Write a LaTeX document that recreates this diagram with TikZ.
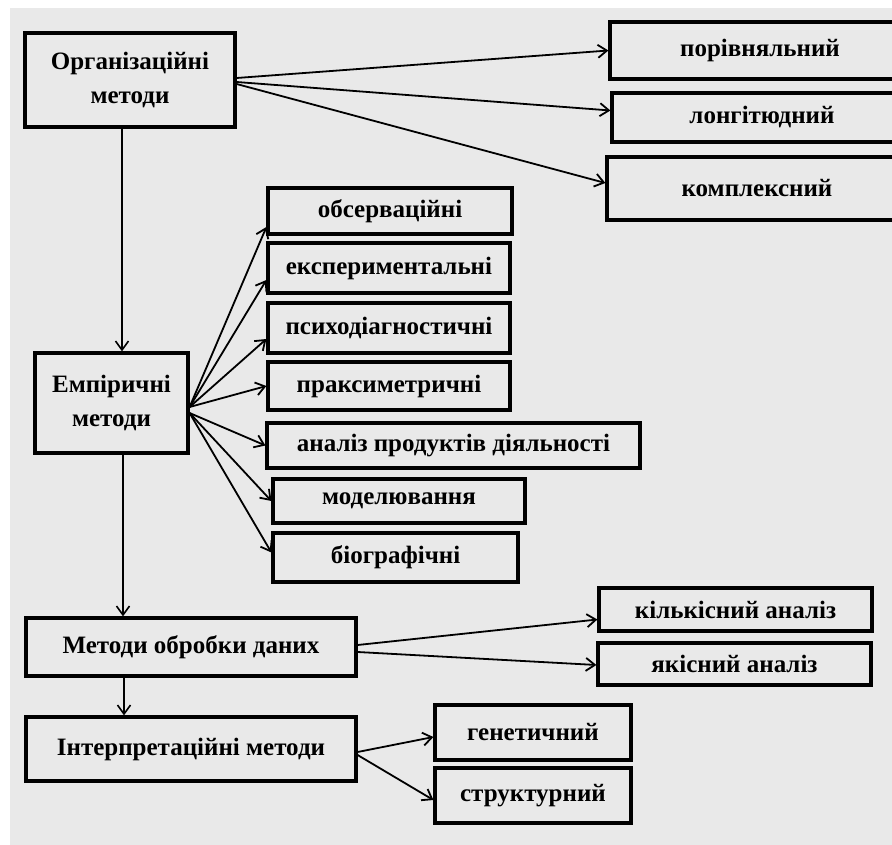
\documentclass[tikz,border=0pt]{standalone}
\usepackage{fontspec}
\setmainfont{Liberation Serif}
\usepackage{tikz}
\usetikzlibrary{shapes}
\usetikzlibrary{arrows.meta}
\usetikzlibrary{positioning}
\usetikzlibrary{calc}
\definecolor{papier}{RGB}{233,233,233}
\tikzstyle{bloc}=[rectangle,draw,line width=3.2pt,fill=papier,inner sep=0pt,
        font=\fontsize{25}{34}\selectfont\bfseries,align=center]
\tikzstyle{suite}=[-{Straight Barb[length=9pt,width=13pt,line width=1.8pt]},line width=1.8pt]
\tikzstyle{descente}=[-{Straight Barb[length=9pt,width=13pt,line width=1.6pt]},line width=1.6pt]

\begin{document}
\begin{tikzpicture}[x=1pt,y=-1pt]
\useasboundingbox (0,0) rectangle (892,845);
\fill[papier] (10,8) rectangle (892,845);
\node[bloc,minimum width=210pt,minimum height=94pt] (org) at (130,80) {Організаційні\\методи};
\node[bloc,minimum width=300pt,minimum height=57pt] (por) at (760,50.5) {порівняльний};
\node[bloc,minimum width=300pt,minimum height=49pt] (lon) at (762,117.5) {лонгітюдний};
\node[bloc,minimum width=300pt,minimum height=63pt] (kom) at (757,188.5) {комплексний};
\node[bloc,minimum width=153pt,minimum height=100pt] (emp) at (111.5,403) {Емпіричні\\методи};
\node[bloc,minimum width=244pt,minimum height=46pt] (obs) at (390,211) {обсерваційні};
\node[bloc,minimum width=242pt,minimum height=50pt] (eksp) at (389,268) {експериментальні};
\node[bloc,minimum width=242pt,minimum height=50pt] (psy) at (389,328) {психодіагностичні};
\node[bloc,minimum width=242pt,minimum height=48pt] (prak) at (389,386) {праксиметричні};
\node[bloc,minimum width=373pt,minimum height=45pt] (anal) at (453.5,445.5) {аналіз продуктів діяльності};
\node[bloc,minimum width=252pt,minimum height=44pt] (mod) at (399,501) {моделювання};
\node[bloc,minimum width=245pt,minimum height=49pt] (bio) at (395.5,557.5) {біографічні};
\node[bloc,minimum width=330pt,minimum height=58pt] (obr) at (191,647) {Методи обробки даних};
\node[bloc,minimum width=273pt,minimum height=43pt] (kil) at (735.5,609.5) {кількісний аналіз};
\node[bloc,minimum width=273pt,minimum height=42pt] (yak) at (734.5,664) {якісний аналіз};
\node[bloc,minimum width=330pt,minimum height=64pt] (int) at (191,749) {Інтерпретаційні методи};
\node[bloc,minimum width=196pt,minimum height=55pt] (gen) at (533,732.5) {генетичний};
\node[bloc,minimum width=196pt,minimum height=55pt] (str) at (533,795.5) {структурний};
%fleches
\draw[descente] ([xshift=-8pt]org.south) -- ([xshift=10.5pt]emp.north);
\draw[descente] ([xshift=11.5pt]emp.south) -- ([xshift=-68pt]obr.north);
\draw[descente] ([xshift=-67pt]obr.south) -- ([xshift=-67pt]int.north);
\draw[suite] ([yshift=2pt]org.east) -- (por.west);
\draw[suite] ([yshift=-2pt]org.east) -- ([yshift=7pt]lon.west);
\draw[suite] ([yshift=-4pt]org.east) -- ([yshift=5.5pt]kom.west);
\draw[suite] ([yshift=-4pt]emp.east) -- ([yshift=-16pt]obs.west);
\draw[suite] ([yshift=-4pt]emp.east) -- ([yshift=-12pt]eksp.west);
\draw[suite] ([yshift=-4pt]emp.east) -- ([yshift=-11pt]psy.west);
\draw[suite] ([yshift=-4pt]emp.east) -- (prak.west);
\draw[suite] ([yshift=-10pt]emp.east) -- (anal.west);
\draw[suite] ([yshift=-10pt]emp.east) -- (mod.west);
\draw[suite] ([yshift=-10pt]emp.east) -- ([yshift=5pt]bio.west);
\draw[suite] ([yshift=2pt]obr.east) -- ([yshift=-10pt]kil.west);
\draw[suite] ([yshift=-5pt]obr.east) -- ([yshift=-1pt]yak.west);
\draw[suite] ([yshift=-3pt]int.east) -- ([yshift=-4.5pt]gen.west);
\draw[suite] ([yshift=-6pt]int.east) -- ([yshift=-4.5pt]str.west);
\end{tikzpicture}
\end{document}
